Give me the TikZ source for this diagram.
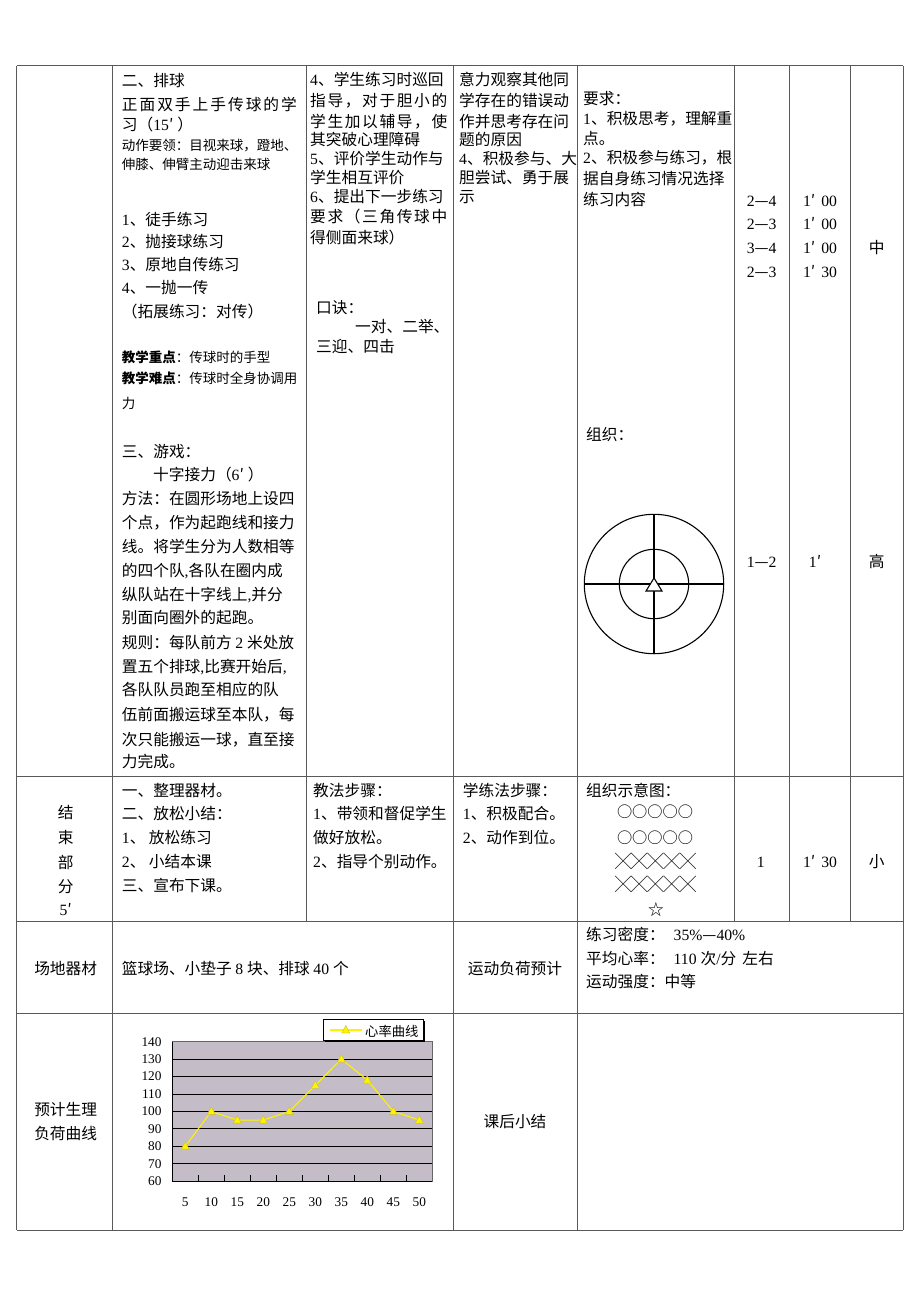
\documentclass[tikz,border=0pt]{standalone}
\usepackage{fontspec}
\setmainfont{Liberation Serif}
\newfontfamily\cjk{Noto Sans CJK SC}
\newfontfamily\lat{Liberation Serif}
\XeTeXinterchartokenstate=1
\newXeTeXintercharclass\CJKcls
\newcount\cc
\newcommand\setcls[2]{\cc=#1\relax\loop\XeTeXcharclass\cc=\CJKcls\relax\ifnum\cc<#2\relax\advance\cc by 1\relax\repeat}
\setcls{"3000}{"303F}
\setcls{"4E00}{"9FFF}
\setcls{"FF00}{"FFEF}
\setcls{"2032}{"2032}
\setcls{"2014}{"2014}
\setcls{"25CB}{"25CB}
\setcls{"2606}{"2606}
\setcls{"2573}{"2573}
\XeTeXinterchartoks 0 \CJKcls = {\cjk}
\XeTeXinterchartoks 4095 \CJKcls = {\cjk}
\XeTeXinterchartoks \CJKcls 0 = {\lat}
\XeTeXinterchartoks 4095 0 = {\lat}
\newcommand\jl[2]{\makebox[#1pt][s]{#2}}
\newcommand\mn[1]{1′\hspace{6pt}#1}
\definecolor{plotbg}{RGB}{196,188,198}
\begin{document}
\begin{tikzpicture}[x=1pt,y=-1pt,
 line/.style={draw=black!65, line width=1pt},
 tx/.style={anchor=west, inner sep=0pt, font=\fontsize{15.7}{18}\selectfont, text height=13.8pt, text depth=1.9pt},
 tc/.style={tx, anchor=center},
 ts/.style={tx, font=\fontsize{13.5}{16}\selectfont, text height=11.9pt, text depth=1.6pt},
 ax/.style={inner sep=0pt, font=\fontsize{13.3}{15}\selectfont, text height=8.8pt, text depth=0pt},
]
\fill[white] (0,0) rectangle (920,1302);
\useasboundingbox (0,0) rectangle (920,1302);

% ---- table grid ----
\foreach \yy in {65.7,776,921,1013,1230} \draw[line] (16.5,\yy) -- (903,\yy);
\foreach \xx in {16.5,112,453.5,577,903} \draw[line] (\xx,65.7) -- (\xx,1230);
\foreach \xx in {306,734,789,850.5} \draw[line] (\xx,65.7) -- (\xx,921);

% ---- column 1 ----
\node[tx] (a1) at (121.7,81) {二、排球};
\node[tx] (a2) at (121.7,105) {\jl{175}{正\hfil 面\hfil 双\hfil 手\hfil 上\hfil 手\hfil 传\hfil 球\hfil 的\hfil 学}};
\node[tx] (a3) at (121.7,125) {习（15′\hspace{4pt}）};
\node[ts] (a4) at (121.7,145) {动作要领：目视来球，蹬地、};
\node[ts] (a5) at (121.7,164) {伸膝、伸臂主动迎击来球};
\node[tx] (a6) at (121.7,220) {1、徒手练习};
\node[tx] (a7) at (121.7,242) {2、抛接球练习};
\node[tx] (a8) at (121.7,265) {3、原地自传练习};
\node[tx] (a9) at (121.7,288) {4、一抛一传};
\node[tx] (a10) at (121.7,312) {（拓展练习：对传）};
\node[ts] (a11) at (121.7,357) {\textbf{教学重点}：传球时的手型};
\node[ts] (a12) at (121.7,378) {\textbf{教学难点}：传球时全身协调用};
\node[ts] (a13) at (121.7,403) {力};
\node[tx] (a14) at (121.7,452) {三、游戏：};
\node[tx] (a15) at (153,475) {十字接力（6′\hspace{4pt}）};
\node[tx] (a16) at (121.7,499) {方法：在圆形场地上设四};
\node[tx] (a17) at (121.7,523) {个点，作为起跑线和接力};
\node[tx] (a18) at (121.7,547) {线。将学生分为人数相等};
\node[tx] (a19) at (121.7,571) {的四个队,各队在圈内成};
\node[tx] (a20) at (121.7,595) {纵队站在十字线上,并分};
\node[tx] (a21) at (121.7,618) {别面向圈外的起跑。};
\node[tx] (a22) at (121.7,643) {规则：每队前方 2 米处放};
\node[tx] (a23) at (121.7,667) {置五个排球,比赛开始后,};
\node[tx] (a24) at (121.7,690) {各队队员跑至相应的队};
\node[tx] (a25) at (121.7,715) {伍前面搬运球至本队，每};
\node[tx] (a26) at (121.7,740) {次只能搬运一球，直至接};
\node[tx] (a27) at (121.7,762) {力完成。};

% ---- column 2 ----
\node[tx] (b1) at (310,80) {4、学生练习时巡回};
\node[tx] (b2) at (310,101) {\jl{137}{指\hfil 导\hfil ，\hfil 对\hfil 于\hfil 胆\hfil 小\hfil 的}};
\node[tx] (b3) at (310,122) {\jl{137}{学\hfil 生\hfil 加\hfil 以\hfil 辅\hfil 导\hfil ，\hfil 使}};
\node[tx] (b4) at (310,140) {其突破心理障碍};
\node[tx] (b5) at (310,159) {5、评价学生动作与};
\node[tx] (b6) at (310,178) {学生相互评价};
\node[tx] (b7) at (310,197) {6、提出下一步练习};
\node[tx] (b8) at (310,217) {\jl{137}{要\hfil 求\hfil （\hfil 三\hfil 角\hfil 传\hfil 球\hfil 中}};
\node[tx] (b9) at (310,238) {得侧面来球）};
\node[tx] (b10) at (316,308) {口诀：};
\node[tx] (b11) at (355,327) {一对、二举、};
\node[tx] (b12) at (316,347) {三迎、四击};

% ---- column 3 ----
\node[tx] (c1) at (459,80) {意力观察其他同};
\node[tx] (c2) at (459,101) {学存在的错误动};
\node[tx] (c3) at (459,122) {作并思考存在问};
\node[tx] (c4) at (459,140) {题的原因};
\node[tx] (c5) at (459,159) {4、积极参与、大};
\node[tx] (c6) at (459,178) {胆尝试、勇于展};
\node[tx] (c7) at (459,197) {示};

% ---- column 4 ----
\node[tx] (d1) at (583,99) {要求：};
\node[tx] (d2) at (583,119) {1、积极思考，理解重};
\node[tx] (d3) at (583,139) {点。};
\node[tx] (d4) at (583,158) {2、积极参与练习，根};
\node[tx] (d5) at (583,179) {据自身练习情况选择};
\node[tx] (d6) at (583,200) {练习内容};
\node[tx] (d7) at (586,435) {组织：};

% ---- numbers ----
\node[tc] (e1) at (761.7,201) {2—4};
\node[tc] (e2) at (761.7,224) {2—3};
\node[tc] (e3) at (761.7,248) {3—4};
\node[tc] (e4) at (761.7,272) {2—3};
\node[tc] (f1) at (820,201) {\mn{00}};
\node[tc] (f2) at (820,224) {\mn{00}};
\node[tc] (f3) at (820,248) {\mn{00}};
\node[tc] (f4) at (820,272) {\mn{30}};
\node[tc] (g1) at (876.7,248) {中};
\node[tc] (e5) at (761.7,562) {1—2};
\node[tc] (f5) at (815,562) {1′};
\node[tc] (g2) at (876.7,562) {高};

% ---- circle organisation diagram ----
\coordinate (cc) at (654,584);
\draw[black, line width=1.1pt] (cc) circle[radius=69.7pt];
\draw[black, line width=1.1pt] (cc) circle[radius=34.7pt];
\draw[black, line width=1.1pt] ([xshift=-69.7pt]cc) -- ([xshift=69.7pt]cc);
\draw[black, line width=1.1pt] ([yshift=-69.7pt]cc) -- ([yshift=69.7pt]cc);
\draw[black, line width=1.1pt, fill=white] ([yshift=6pt]cc) -- ([shift={(-8pt,-7pt)}]cc) -- ([shift={(8pt,-7pt)}]cc) -- cycle;

% ---- ending part row ----
\node[tc] (h1) at (65.7,813) {结};
\node[tc] (h2) at (65.7,838) {束};
\node[tc] (h3) at (65.7,862.7) {部};
\node[tc] (h4) at (65.7,886.7) {分};
\node[tc] (h5) at (65.7,910) {5′};
\node[tx] (i1) at (121.7,790.7) {一、整理器材。};
\node[tx] (i2) at (121.7,814) {二、放松小结：};
\node[tx] (i3) at (121.7,838) {1、 放松练习};
\node[tx] (i4) at (121.7,862) {2、 小结本课};
\node[tx] (i5) at (121.7,886) {三、宣布下课。};
\node[tx] (j1) at (313,790.7) {教法步骤：};
\node[tx] (j2) at (313,814) {1、带领和督促学生};
\node[tx] (j3) at (313,838) {做好放松。};
\node[tx] (j4) at (313,862) {2、指导个别动作。};
\node[tx] (k1) at (462.7,790.7) {学练法步骤：};
\node[tx] (k2) at (462.7,814) {1、积极配合。};
\node[tx] (k3) at (462.7,838) {2、动作到位。};
\node[tx] (l1) at (586,790.7) {组织示意图：};
\node[tc, font=\fontsize{15.2}{18}\selectfont] (o1) at (655,812) {○○○○○};
\node[tc, font=\fontsize{15.2}{18}\selectfont] (o2) at (655,838) {○○○○○};
\node[tc, font=\fontsize{16.2}{18}\selectfont] (x1) at (655.5,861.5) {╳╳╳╳╳};
\node[tc, font=\fontsize{16.2}{18}\selectfont] (x2) at (655.5,885) {╳╳╳╳╳};
\node[tc] (st) at (656,910) {☆};
\node[tc] (m1) at (760.7,862) {1};
\node[tc] (m2) at (820,862) {\mn{30}};
\node[tc] (m3) at (876.7,862) {小};

% ---- equipment row ----
\node[tc] (n1) at (65.7,969) {场地器材};
\node[tx] (n2) at (121.7,969) {篮球场、小垫子 8 块、排球 40 个};
\node[tc] (n3) at (515,969) {运动负荷预计};
\node[tx] (n4) at (586,935) {练习密度：\hspace{9pt}35\%—40\%};
\node[tx] (n5) at (586,959) {平均心率：\hspace{9pt}110 次/分\hspace{6pt}左右};
\node[tx] (n6) at (586,982) {运动强度：中等};

% ---- bottom row ----
\node[tc] (q1) at (65.7,1110) {预计生理};
\node[tc] (q2) at (65.7,1134) {负荷曲线};
\node[tc] (q3) at (515,1122) {课后小结};

% ---- chart ----
\begin{scope}[shift={(172.3pt,-1181pt)}, x=26pt, y=1.74125pt]
\fill[plotbg] (0,0) rectangle (10,80);
\foreach \v in {10,20,...,70} \draw[black, line width=0.9pt] (0,\v) -- (10,\v);
\draw[black!60, line width=0.9pt] (0,0) rectangle (10,80);
\draw[black, line width=1pt] (0,80) -- (0,0) -- (10,0);
\foreach \i in {1,...,9} \draw[black, line width=0.9pt] (\i,0) -- (\i,3.5);
\foreach \v [count=\k] in {0,10,...,80} \node[ax, anchor=east, xshift=-10.6pt] (yl\k) at (0,\v) {\number\numexpr\v+60\relax};
\foreach \n [count=\k] in {5,10,...,50} \node[ax, yshift=-20.7pt] (xl\k) at (\k-0.5,0) {\n};
\foreach \v [count=\k] in {80,100,95,95,100,115,130,118,100,95} \coordinate (p\k) at (\k-0.5,\v-60);
\draw[yellow, line width=1.1pt] (p1) -- (p2) -- (p3) -- (p4) -- (p5) -- (p6) -- (p7) -- (p8) -- (p9) -- (p10);
\foreach \k in {1,...,10} \fill[yellow, draw=yellow!75!black, line width=0.4pt] ([shift={(0pt,4.5pt)}]p\k) -- ([shift={(-4pt,-3pt)}]p\k) -- ([shift={(4pt,-3pt)}]p\k) -- cycle;
\end{scope}

% legend
\fill[black] (325.3,1021.3) rectangle (425.3,1042);
\draw[black, fill=white, line width=0.8pt] (323.3,1019.3) rectangle (423.3,1040);
\coordinate (la) at (330,1030);
\coordinate (lb) at (361.7,1030);
\coordinate (lm) at (345.8,1030);
\draw[yellow, line width=1.1pt] (la) -- (lb);
\fill[yellow, draw=yellow!75!black, line width=0.4pt] ([shift={(0pt,4.5pt)}]lm) -- ([shift={(-4pt,-3pt)}]lm) -- ([shift={(4pt,-3pt)}]lm) -- cycle;
\node[anchor=west, inner sep=0pt, font=\fontsize{13.3}{15}\selectfont, text height=11.7pt, text depth=1.6pt] (legt) at (365,1031) {心率曲线};
\end{tikzpicture}
\end{document}
